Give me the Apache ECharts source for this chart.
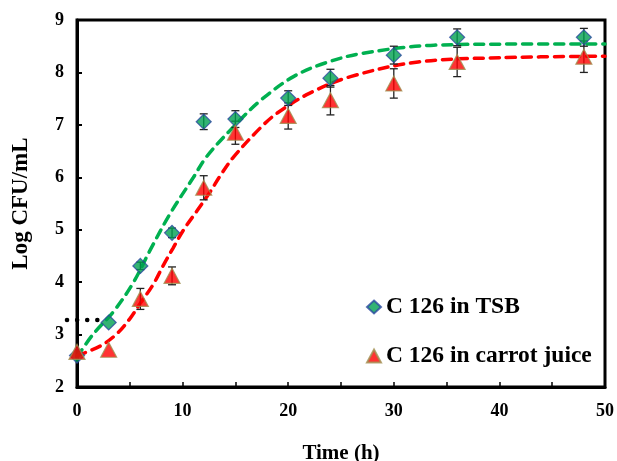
<!DOCTYPE html>
<html><head><meta charset="utf-8">
<script src="https://cdn.jsdelivr.net/npm/echarts@6/dist/echarts.min.js"></script>
<style>html,body{margin:0;padding:0;background:#fff}#c{width:617px;height:461px}</style>
</head><body><div id="c"></div>
<script>
const times = [0, 3, 6, 9, 12, 15, 20, 24, 30, 36, 48];
const tsbValues = [2.6, 3.23, 4.31, 4.94, 7.06, 7.11, 7.51, 7.89, 8.33, 8.67, 8.67];
const tsbErrors = [0, 0, 0.07, 0.09, 0.15, 0.16, 0.14, 0.17, 0.17, 0.16, 0.17];
const juiceValues = [2.67, 2.71, 3.68, 4.12, 5.8, 6.85, 7.17, 7.47, 7.79, 8.2, 8.3];
const juiceErrors = [0, 0, 0.2, 0.17, 0.23, 0.22, 0.25, 0.28, 0.28, 0.28, 0.3];
const tsbFitX = [0, 1.5, 3.5, 5.3, 6.9, 8.8, 11, 12.3, 15, 17.4, 20.5, 23.5, 26.9, 33.8, 42, 50];
const tsbFitY = [2.57, 3.0, 3.45, 3.98, 4.6, 5.3, 5.99, 6.4, 7.0, 7.47, 7.92, 8.18, 8.36, 8.52, 8.54, 8.54];
const juiceFitX = [0, 2.2, 3.8, 5, 6, 7.2, 8.2, 9.1, 10.1, 11.4, 12.6, 13.6, 14.8, 17.4, 19, 22, 25.9, 32.3, 40, 50];
const juiceFitY = [2.6, 2.78, 3.02, 3.3, 3.6, 3.95, 4.33, 4.65, 5.0, 5.37, 5.72, 6.04, 6.38, 6.95, 7.23, 7.6, 7.92, 8.2, 8.28, 8.31];
const refLineX = [-0.95, 2.4];
const refLineY = [3.28, 3.28];
const xTicks = [0, 10, 20, 30, 40, 50];
const yTicks = [2, 3, 4, 5, 6, 7, 8, 9];
const seriesNames = ['C 126 in TSB', 'C 126 in carrot juice'];

const font = '"Liberation Serif", "Times New Roman", serif';
function errData(vals, errs) {
  return times.map((t, i) => [t, vals[i] - errs[i], vals[i] + errs[i]]).filter((d, i) => errs[i] > 0);
}
function errSeries(vals, errs) {
  return {
    type: 'custom', silent: true, z: 2,
    data: errData(vals, errs),
    renderItem: function (params, api) {
      const lo = api.coord([api.value(0), api.value(1)]);
      const hi = api.coord([api.value(0), api.value(2)]);
      const w = 4;
      const st = {stroke: '#222', lineWidth: 1.3};
      return {type: 'group', children: [
        {type: 'line', shape: {x1: lo[0], y1: lo[1], x2: hi[0], y2: hi[1]}, style: st},
        {type: 'line', shape: {x1: lo[0] - w, y1: lo[1], x2: lo[0] + w, y2: lo[1]}, style: st},
        {type: 'line', shape: {x1: hi[0] - w, y1: hi[1], x2: hi[0] + w, y2: hi[1]}, style: st}
      ]};
    }
  };
}
const chart = echarts.init(document.getElementById('c'));
chart.setOption({
  animation: false,
  grid: {left: 77, top: 20, right: 12, bottom: 74, show: true, borderColor: '#000', borderWidth: 3,
    outerBoundsMode: 'none', containLabel: false},
  legend: {
    orient: 'vertical', left: 361, top: 290, itemGap: 25, itemWidth: 14, itemHeight: 13,
    textStyle: {fontFamily: font, fontWeight: 'bold', fontSize: 23.5, color: '#000'},
    data: [{name: seriesNames[0], icon: 'diamond'}, {name: seriesNames[1], icon: 'triangle'}]
  },
  xAxis: {
    type: 'value', min: 0, max: 50, interval: 5,
    name: 'Time (h)', nameLocation: 'middle', nameGap: 56,
    nameTextStyle: {fontFamily: font, fontWeight: 'bold', fontSize: 21, color: '#000'},
    axisLine: {lineStyle: {color: '#000', width: 3}},
    axisTick: {inside: true, length: 5, lineStyle: {color: '#000', width: 1.5}},
    axisLabel: {fontFamily: font, fontWeight: 'bold', fontSize: 18, color: '#000', margin: 15,
      formatter: v => xTicks.indexOf(v) >= 0 ? String(v) : ''},
    splitLine: {show: false}
  },
  yAxis: {
    type: 'value', min: 2, max: 9, interval: 1,
    name: 'Log CFU/mL', nameLocation: 'middle', nameGap: 44,
    nameTextStyle: {fontFamily: font, fontWeight: 'bold', fontSize: 23, color: '#000'},
    axisLine: {lineStyle: {color: '#000', width: 3}},
    axisTick: {inside: true, length: 5, lineStyle: {color: '#000', width: 2}},
    axisLabel: {fontFamily: font, fontWeight: 'bold', fontSize: 18, color: '#000', margin: 13,
      formatter: v => yTicks.indexOf(v) >= 0 ? String(v) : ''},
    splitLine: {show: false}
  },
  series: [
    {type: 'line', silent: true, smooth: 0.35, symbol: 'none', z: 1,
      data: tsbFitX.map((x, i) => [x, tsbFitY[i]]),
      lineStyle: {color: '#00b050', width: 3.5, type: [9, 7], cap: 'round'}},
    {type: 'line', silent: true, smooth: 0.35, symbol: 'none', z: 1,
      data: juiceFitX.map((x, i) => [x, juiceFitY[i]]),
      lineStyle: {color: '#ff0000', width: 3.5, type: [9, 7], cap: 'round'}},
    {type: 'custom', silent: true, z: 1, clip: false,
      data: [[refLineX[0], refLineY[0], refLineX[1], refLineY[1]]],
      renderItem: function (params, api) {
        const a = api.coord([api.value(0), api.value(1)]);
        const b = api.coord([api.value(2), api.value(3)]);
        return {type: 'line', shape: {x1: a[0], y1: a[1], x2: b[0], y2: b[1]},
          style: {stroke: '#000', lineWidth: 4.5, lineDash: [0.1, 10], lineCap: 'round'}};
      }},
    errSeries(tsbValues, tsbErrors),
    errSeries(juiceValues, juiceErrors),
    {name: seriesNames[0], type: 'scatter', symbol: 'diamond', symbolSize: 15, z: 3,
      data: times.map((t, i) => [t, tsbValues[i]]),
      itemStyle: {color: '#00a050', borderColor: '#2a4aa0', borderWidth: 1.2}},
    {name: seriesNames[1], type: 'scatter', symbol: 'triangle', symbolSize: [16, 15], z: 4,
      data: times.map((t, i) => [t, juiceValues[i]]),
      itemStyle: {color: '#ff0000', borderColor: '#a09050', borderWidth: 1.2}}
  ]
});
</script></body></html>
